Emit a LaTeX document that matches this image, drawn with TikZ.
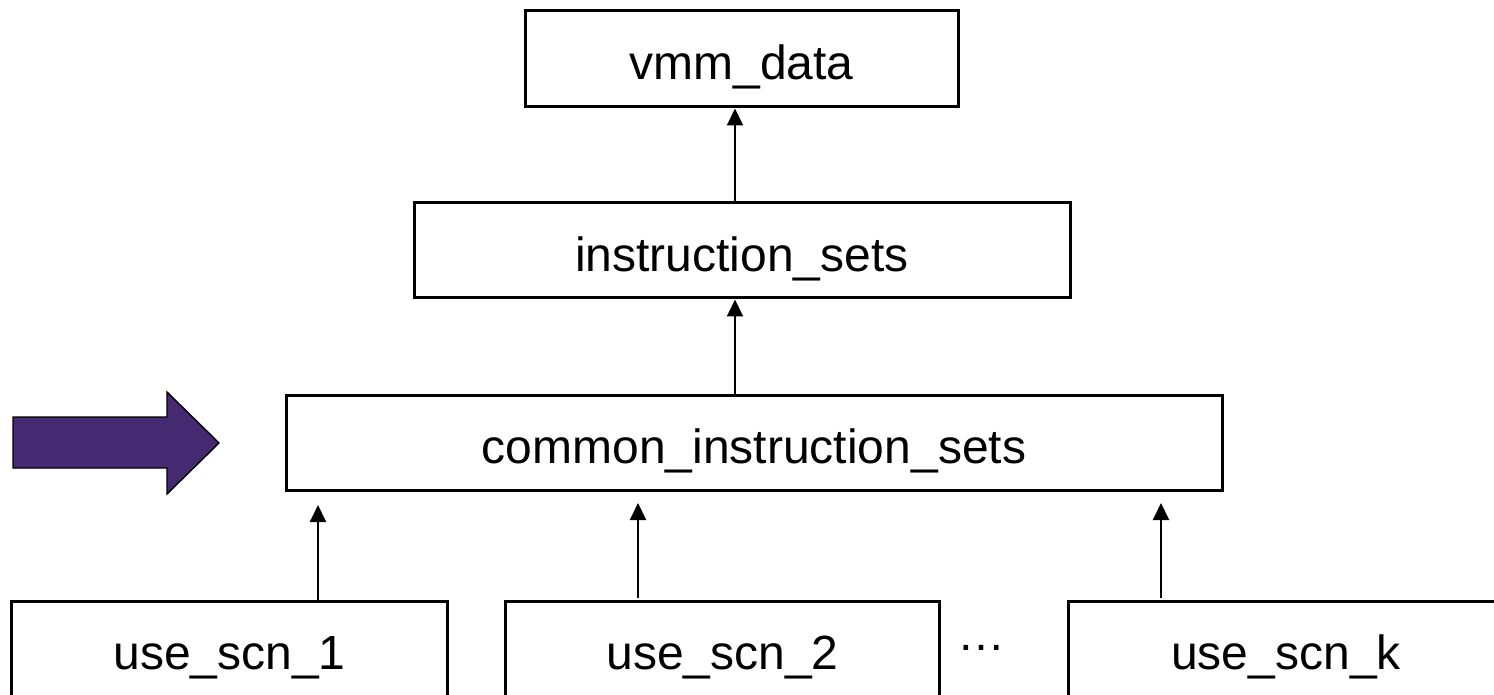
\documentclass[tikz,border=0pt]{standalone}
\usepackage{fontspec}
\setmainfont{Liberation Sans}
\usetikzlibrary{arrows.meta}
\definecolor{pointer}{RGB}{69,42,114}
\tikzset{
  box/.style={draw=black, line width=1.5pt, inner sep=0pt, text height=21pt, text depth=0pt,
    font=\fontsize{24}{28}\selectfont},
  openbox/.style={box, draw=none},
  boxedge/.style={draw=black, line width=1.5pt},
  link/.style={line width=1pt, -{Triangle[width=8pt,length=8.5pt]}},
}
\begin{document}
\begin{tikzpicture}[x=0.5pt, y=-0.5pt]
  \useasboundingbox (0,0) rectangle (1494,695);

  % hierarchy boxes
  \node[box, minimum width=216.5pt, minimum height=48pt] (vmm) at (741.5,59) {vmm\_data};
  \node[box, minimum width=328pt, minimum height=47.5pt] (instr) at (742,250.5) {instruction\_sets};
  \node[box, minimum width=468pt, minimum height=47.5pt] (common) at (754,442.5) {common\_instruction\_sets};

  % use scenario boxes, running off the lower edge
  \node[openbox, minimum width=216.5pt, minimum height=45pt] (u1) at (229.5,648) {use\_scn\_1};
  \node[openbox, minimum width=215.5pt, minimum height=45pt] (u2) at (722.5,648) {use\_scn\_2};
  \node[openbox, minimum width=216pt, minimum height=45pt] (uk) at (1286,648) {use\_scn\_k};
  \foreach \n in {u1,u2,uk}
    \draw[boxedge] ([yshift=-10pt]\n.south west) -- (\n.north west) -- (\n.north east) -- ([yshift=-10pt]\n.south east);

  \node[font=\fontsize{24}{28}\selectfont, inner sep=0pt, anchor=base] (dots) at (981,650) {…};

  % connectors
  \coordinate (ax) at (735,0);
  \draw[link] (instr.north -| ax) -- (vmm.south -| ax);
  \draw[link] (common.north -| ax) -- (instr.south -| ax);

  \coordinate (t1) at (318,505);
  \coordinate (t2) at (638,503);
  \coordinate (tk) at (1161,503);
  \draw[link] (u1.north -| t1) -- (t1);
  \draw[link, shorten <=2pt] (u2.north -| t2) -- (t2);
  \draw[link, shorten <=2pt] (uk.north -| tk) -- (tk);

  % block arrow pointing at the common layer
  \draw[fill=pointer, draw=black, line width=0.7pt, line join=miter]
    (13,417) -- (167,417) -- (167,392) -- (219,443) -- (167,494) -- (167,468) -- (13,468) -- cycle;
\end{tikzpicture}
\end{document}
